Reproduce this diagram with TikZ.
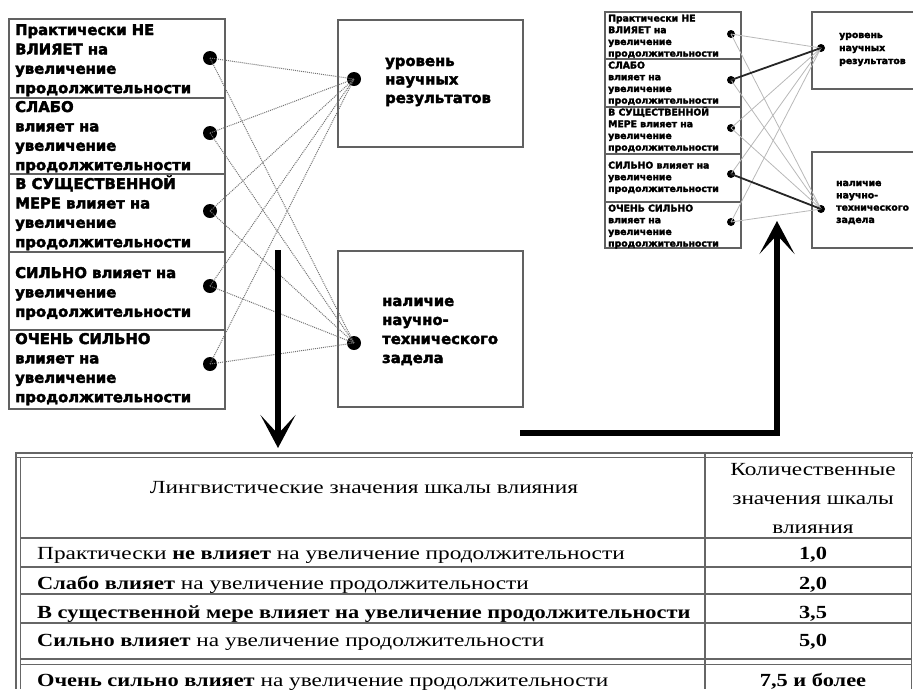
\documentclass[tikz,border=0pt]{standalone}
\usepackage{fontspec}
\setmainfont{Liberation Serif}
\newfontfamily\hvfont[BoldFeatures={FakeBold=2.6}]{DejaVu Sans}
\newfontfamily\tabfont[UprightFeatures={FakeStretch=1.26},BoldFeatures={FakeStretch=1.21}]{Liberation Serif}
\usetikzlibrary{arrows.meta}
\newcommand\mylines[6]{%
  \foreach \t [count=\k from 0] in {#6}
    \node[#5] (#1\k) at (#2,{#3+#4*\k}) {\t};}
\begin{document}
\begin{tikzpicture}[x=1pt,y=-1pt,
  boxline/.style={draw=black!62,line width=2.2pt},
  bigbox/.style={boxline,inner sep=0pt,fill=none},
  dot/.style={circle,fill=black,inner sep=0pt,minimum size=14pt},
  sdot/.style={circle,fill=black,inner sep=0pt,minimum size=8pt},
  conn/.style={draw=black!55,densely dotted,line width=1pt},
  sconn/.style={draw=black!28,line width=0.8pt},
  sdark/.style={draw=black!85,line width=1.8pt},
  bl/.style={font=\hvfont\bfseries\fontsize{14.8}{16}\selectfont,anchor=base west,inner sep=0pt},
  sl/.style={font=\hvfont\bfseries\fontsize{9.3}{10}\selectfont,anchor=base west,inner sep=0pt},
  tl/.style={font=\tabfont\fontsize{18.5}{20}\selectfont,anchor=base west,inner sep=0pt},
  tc/.style={font=\tabfont\fontsize{18.5}{20}\selectfont,anchor=base,inner sep=0pt},
  tabline/.style={draw=black!60,line width=1.3pt},
  bigarrow/.style={line width=5.5pt,-{Stealth[length=33pt,width=35pt,inset=19pt]}}]
\useasboundingbox (0,0) rectangle (913,689);

% ===== big diagram =====
\node[bigbox,minimum width=216pt,minimum height=390pt] (L) at (117,214) {};
\foreach \yy/\n in {98/1,174/2,252/3,330/4}
  \draw[boxline] (9,\yy) coordinate (ls\n) -- (225,\yy) coordinate (le\n);
\node[bigbox,minimum width=185pt,minimum height=127pt] (R1) at (430.5,83.5) {};
\node[bigbox,minimum width=185pt,minimum height=156pt] (R2) at (430.5,329) {};

\mylines{a}{15}{35}{19.4}{bl}{Практически НЕ,ВЛИЯЕТ на,увеличение,продолжительности}
\mylines{b}{15}{112}{19.4}{bl}{СЛАБО,влияет на,увеличение,продолжительности}
\mylines{c}{15}{189}{19.4}{bl}{В СУЩЕСТВЕННОЙ,МЕРЕ влияет на,увеличение,продолжительности}
\mylines{d}{15}{278}{19.4}{bl}{СИЛЬНО влияет на,увеличение,продолжительности}
\mylines{e}{15}{344}{19.4}{bl}{ОЧЕНЬ СИЛЬНО,влияет на,увеличение,продолжительности}
\mylines{u}{385}{66}{18.5}{bl}{уровень,научных,результатов}
\mylines{v}{382}{306}{19}{bl}{наличие,научно-,технического,задела}

\node[dot] (d1) at (210,58) {};
\node[dot] (d2) at (210,133) {};
\node[dot] (d3) at (210,211) {};
\node[dot] (d4) at (210,286) {};
\node[dot] (d5) at (210,364) {};
\node[dot] (t1) at (354,79) {};
\node[dot] (t2) at (354,343) {};
\foreach \i in {1,...,5} {
  \draw[conn] (d\i.center) -- (t1.center);
  \draw[conn] (d\i.center) -- (t2.center);
}

% ===== small diagram =====
\node[bigbox,line width=1.6pt,minimum width=136pt,minimum height=236pt] (SL) at (673,130) {};
\foreach \yy/\n in {59/1,107/2,154/3,202/4}
  \draw[boxline,line width=1.4pt] (605,\yy) coordinate (ss\n) -- (741,\yy) coordinate (se\n);
\node[bigbox,line width=1.6pt,minimum width=110pt,minimum height=77pt] (SR1) at (867,50.5) {};
\node[bigbox,line width=1.6pt,minimum width=110pt,minimum height=96pt] (SR2) at (867,200) {};

\mylines{sa}{608}{21.5}{11.7}{sl}{Практически НЕ,ВЛИЯЕТ на,увеличение,продолжительности}
\mylines{sb}{608}{68.5}{11.7}{sl}{СЛАБО,влияет на,увеличение,продолжительности}
\mylines{sc}{608}{115.5}{11.7}{sl}{В СУЩЕСТВЕННОЙ,МЕРЕ влияет на,увеличение,продолжительности}
\mylines{sd}{608}{168.5}{11.7}{sl}{СИЛЬНО влияет на,увеличение,продолжительности}
\mylines{se}{608}{211.5}{11.7}{sl}{ОЧЕНЬ СИЛЬНО,влияет на,увеличение,продолжительности}
\mylines{su}{839}{38}{13}{sl}{уровень,научных,результатов}
\mylines{sv}{836}{186}{12.3}{sl}{наличие,научно-,технического,задела}

\node[sdot] (s1) at (731,34) {};
\node[sdot] (s2) at (731,80) {};
\node[sdot] (s3) at (731,128) {};
\node[sdot] (s4) at (731,174) {};
\node[sdot] (s5) at (731,222) {};
\node[sdot] (q1) at (821,48) {};
\node[sdot] (q2) at (821,209) {};
\foreach \i in {1,...,5} {
  \draw[sconn] (s\i.center) -- (q1.center);
  \draw[sconn] (s\i.center) -- (q2.center);
}
\draw[sdark] (s2.center) -- (q1.center);
\draw[sdark] (s4.center) -- (q2.center);

% ===== arrows =====
\coordinate (ds) at (278,250);
\coordinate (de) at (278,448);
\draw[bigarrow] (ds) -- (de);
\coordinate (hs) at (520,433);
\coordinate (he) at (777,221);
\draw[bigarrow] (hs) -| (he);

% ===== table =====
\coordinate (T0) at (15,453);
\draw[tabline] (15,453) -- (913,453);
\draw[tabline,line width=0.8pt] (15,457) -- (913,457);
\draw[tabline,line width=2.2pt] (16,453) -- (16,689);
\draw[tabline,line width=0.8pt] (20,457) -- (20,689);
\draw[tabline] (705,453) -- (705,689);
\draw[tabline] (911.5,453) -- (911.5,689);
\foreach \yy in {538,567,594,623,659}
  \draw[tabline] (20,\yy) -- (911,\yy);
\draw[tabline,line width=0.8pt] (20,664) -- (911,664);

\node[tc] (h1) at (364,493) {Лингвистические значения шкалы влияния};
\mylines{hr}{813}{475}{29}{tc}{Количественные,значения шкалы,влияния}

\node[tl] (r1) at (37,559) {Практически \textbf{не влияет} на увеличение продолжительности};
\node[tl] (r2) at (37,589) {\textbf{Слабо влияет} на увеличение продолжительности};
\node[tl] (r3) at (37,618) {\textbf{В существенной мере влияет на увеличение продолжительности}};
\node[tl] (r4) at (37,646) {\textbf{Сильно влияет} на увеличение продолжительности};
\node[tl] (r5) at (37,686) {\textbf{Очень сильно влияет} на увеличение продолжительности};
\node[tc] (v1) at (813,559) {\textbf{1,0}};
\node[tc] (v2) at (813,589) {\textbf{2,0}};
\node[tc] (v3) at (813,618) {\textbf{3,5}};
\node[tc] (v4) at (813,646) {\textbf{5,0}};
\node[tc] (v5) at (813,686) {\textbf{7,5 и более}};
\end{tikzpicture}
\end{document}
